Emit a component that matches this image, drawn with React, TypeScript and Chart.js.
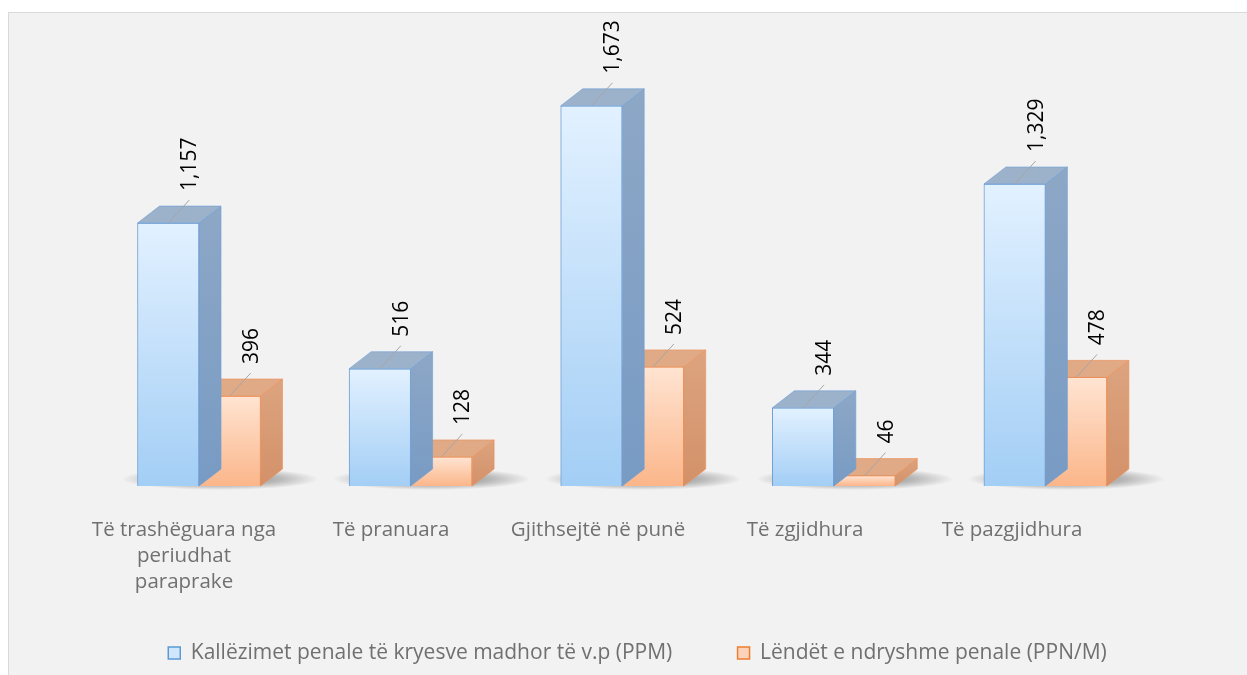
import React, { useEffect, useRef } from 'react';
import { Chart, registerables } from 'chart.js';

Chart.register(...registerables);

// ---- data ----
const categories: (string | string[])[] = [
  ['Të trashëguara nga', 'periudhat', 'paraprake'],
  'Të pranuara',
  'Gjithsejtë në punë',
  'Të zgjidhura',
  'Të pazgjidhura',
];
const seriesNames = [
  'Kallëzimet penale të kryesve madhor të v.p (PPM)',
  'Lëndët e ndryshme penale (PPN/M)',
];
const ppmValues = [1157, 516, 1673, 344, 1329];
const ppnmValues = [396, 128, 524, 46, 478];

// ---- style ----
const FONT = "'Open Sans', 'Noto Sans', sans-serif";
const TEXT_GRAY = '#707070';
const DX = 22;
const DY = 17;
const STYLES = [
  {
    frontTop: '#e2f1ff',
    frontBottom: '#a3cef5',
    border: '#6d9fd6',
    top: '#9cb2cb',
    sideTop: '#8da7c6',
    sideBottom: '#789bc4',
    legendFill: '#cfe6fb',
    legendStroke: '#5b9bd5',
  },
  {
    frontTop: '#ffe4d2',
    frontBottom: '#fbb68a',
    border: '#ee8e54',
    top: '#e0aa86',
    sideTop: '#dca47f',
    sideBottom: '#d39169',
    legendFill: '#fbd3bb',
    legendStroke: '#ed7d31',
  },
];

function frontFill(i: number) {
  return (c: any) => {
    const chart = c.chart;
    const st = STYLES[i];
    if (!chart.chartArea || c.type !== 'data' || !chart.scales.y) return st.frontBottom;
    const ys = chart.scales.y;
    const top = ys.getPixelForValue(c.raw.y);
    const bottom = ys.getPixelForValue(0);
    if (!isFinite(top) || !isFinite(bottom) || bottom - top < 1) return st.frontBottom;
    const g = chart.ctx.createLinearGradient(0, top, 0, bottom);
    g.addColorStop(0, st.frontTop);
    g.addColorStop(1, st.frontBottom);
    return g;
  };
}

const box3d = {
  id: 'box3d',
  beforeDatasetsDraw(chart: any) {
    const ctx = chart.ctx;
    const m0 = chart.getDatasetMeta(0);
    const m1 = chart.getDatasetMeta(1);
    m0.data.forEach((b0: any, i: number) => {
      const b1 = m1.data[i];
      if (!b1) return;
      const left = b0.x - b0.width / 2;
      const right = b1.x + b1.width / 2 + DX;
      const base = b0.base;
      const cx = (left + right) / 2 + 10;
      const cy = base - 7;
      const rx = (right - left) / 2 + 26;
      const ry = 11;
      ctx.save();
      ctx.translate(cx, cy);
      ctx.scale(rx / ry, 1);
      const g = ctx.createRadialGradient(0, 0, 0, 0, 0, ry);
      g.addColorStop(0, 'rgba(50,50,50,0.6)');
      g.addColorStop(0.6, 'rgba(50,50,50,0.3)');
      g.addColorStop(1, 'rgba(50,50,50,0)');
      ctx.fillStyle = g;
      ctx.beginPath();
      ctx.arc(0, 0, ry, 0, Math.PI * 2);
      ctx.fill();
      ctx.restore();
    });
  },
  afterDatasetDraw(chart: any, args: any) {
    const ctx = chart.ctx;
    const st = STYLES[args.index];
    args.meta.data.forEach((bar: any) => {
      const { x, y, base, width } = bar.getProps(['x', 'y', 'base', 'width'], true);
      const l = x - width / 2;
      const r = x + width / 2;
      ctx.save();
      ctx.lineWidth = 1;
      ctx.lineJoin = 'round';
      // side face
      const sg = ctx.createLinearGradient(0, y - DY, 0, base);
      sg.addColorStop(0, st.sideTop);
      sg.addColorStop(1, st.sideBottom);
      ctx.fillStyle = sg;
      ctx.strokeStyle = st.border;
      ctx.beginPath();
      ctx.moveTo(r, y);
      ctx.lineTo(r + DX, y - DY);
      ctx.lineTo(r + DX, base - DY);
      ctx.lineTo(r, base);
      ctx.closePath();
      ctx.fill();
      ctx.globalAlpha = 0.6;
      ctx.stroke();
      ctx.globalAlpha = 1;
      // top face
      ctx.fillStyle = st.top;
      ctx.beginPath();
      ctx.moveTo(l, y);
      ctx.lineTo(l + DX, y - DY);
      ctx.lineTo(r + DX, y - DY);
      ctx.lineTo(r, y);
      ctx.closePath();
      ctx.fill();
      ctx.globalAlpha = 0.6;
      ctx.stroke();
      ctx.restore();
    });
  },
  afterDatasetsDraw(chart: any) {
    const ctx = chart.ctx;
    [0, 1].forEach((di) => {
      const meta = chart.getDatasetMeta(di);
      const values = di === 0 ? ppmValues : ppnmValues;
      meta.data.forEach((bar: any, i: number) => {
        const { x, y } = bar.getProps(['x', 'y'], true);
        ctx.save();
        ctx.strokeStyle = '#a6a6a6';
        ctx.lineWidth = 1;
        ctx.beginPath();
        ctx.moveTo(x, y);
        ctx.lineTo(x + 21, y - 23);
        ctx.stroke();
        ctx.translate(x + 22, y - 32);
        ctx.rotate(-Math.PI / 2);
        ctx.fillStyle = '#000000';
        ctx.font = `21px ${FONT}`;
        ctx.textAlign = 'left';
        ctx.textBaseline = 'middle';
        ctx.fillText(values[i].toLocaleString('en-US'), 0, 0);
        ctx.restore();
      });
    });
  },
};

export default function App() {
  const ref = useRef<HTMLCanvasElement | null>(null);

  useEffect(() => {
    if (!ref.current) return;
    const chart = new Chart(ref.current, {
      type: 'bar',
      data: {
        labels: categories as any,
        datasets: [
          {
            label: seriesNames[0],
            data: ppmValues.map((v, i) => ({ x: i, y: v })) as any,
            xAxisID: 'xb',
            yAxisID: 'y',
            backgroundColor: frontFill(0) as any,
            borderColor: STYLES[0].border,
            borderWidth: 1,
            barThickness: 61.5,
          },
          {
            label: seriesNames[1],
            data: ppnmValues.map((v, i) => ({ x: i, y: v })) as any,
            xAxisID: 'xb',
            yAxisID: 'y',
            backgroundColor: frontFill(1) as any,
            borderColor: STYLES[1].border,
            borderWidth: 1,
            barThickness: 61.5,
          },
        ],
      },
      options: {
        responsive: false,
        animation: false,
        devicePixelRatio: 1,
        layout: { padding: { left: 40, right: 21, top: 18.5, bottom: 1.5 } },
        scales: {
          x: {
            type: 'linear',
            position: 'bottom',
            min: -0.6522,
            max: 5.0338,
            offset: false,
            grid: { display: false, drawTicks: false },
            border: { display: false },
            afterBuildTicks: (s: any) => {
              s.ticks = s.ticks.filter((t: any) => t.value >= 0 && t.value < categories.length);
            },
            afterFit: (s: any) => {
              s.height = 113;
            },
            ticks: {
              stepSize: 1,
              includeBounds: false,
              autoSkip: false,
              maxRotation: 0,
              minRotation: 0,
              padding: 31,
              color: TEXT_GRAY,
              font: { family: FONT, size: 20.5, lineHeight: 1.27 },
              callback: (v: any) => categories[Math.round(Number(v))] ?? '',
            },
          },
          xb: {
            type: 'linear',
            display: false,
            min: -0.7089,
            max: 4.8535,
            offset: false,
            ticks: { stepSize: 1 },
          },
          y: {
            type: 'linear',
            display: false,
            min: 0,
            max: 2000,
          },
        },
        plugins: {
          tooltip: { enabled: false },
          legend: {
            position: 'bottom',
            labels: {
              boxWidth: 12,
              boxHeight: 12,
              padding: 43.5,
              color: TEXT_GRAY,
              font: { family: FONT, size: 21 },
              generateLabels: () =>
                seriesNames.map((name, i) => ({
                  text: i === 0 ? name + '\u00A0\u00A0\u00A0\u00A0' : name,
                  fillStyle: STYLES[i].legendFill,
                  strokeStyle: STYLES[i].legendStroke,
                  lineWidth: 1.5,
                  hidden: false,
                  datasetIndex: i,
                  fontColor: TEXT_GRAY,
                })),
            },
          },
        },
      } as any,
      plugins: [box3d],
    });
    return () => chart.destroy();
  }, []);

  return (
    <div
      style={{
        position: 'fixed',
        left: 0,
        top: 0,
        width: 1247,
        height: 675,
        background: '#ffffff',
        overflow: 'hidden',
      }}
    >
      <div
        style={{
          position: 'absolute',
          left: 8,
          top: 12,
          width: 1239,
          height: 663,
          boxSizing: 'border-box',
          borderLeft: '1px solid #d9d9d9',
          borderTop: '1px solid #d9d9d9',
          background: '#f2f2f2',
        }}
      >
        <canvas ref={ref} width={1238} height={662} style={{ display: 'block', width: 1238, height: 662 }} />
      </div>
    </div>
  );
}
